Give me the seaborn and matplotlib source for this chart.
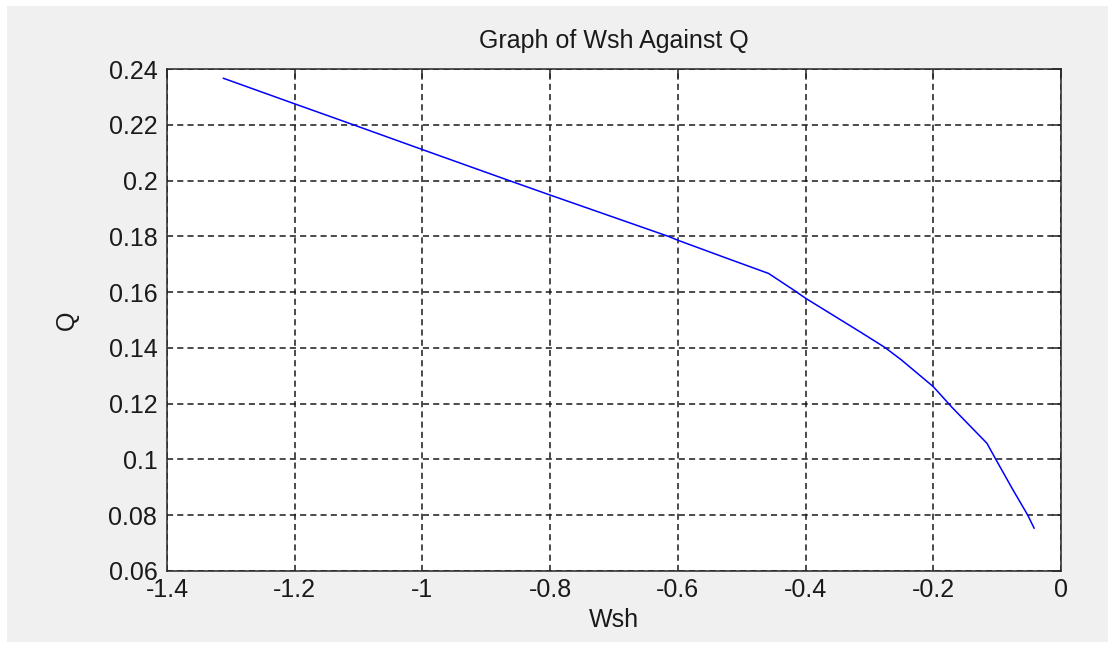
import matplotlib
matplotlib.use("Agg")
import matplotlib.pyplot as plt
import seaborn as sns
import pandas as pd
from matplotlib.patches import Rectangle

# Data
wsh = [-1.312, -1.2, -1.124, -1.0, -0.879, -0.8, -0.615, -0.6, -0.53, -0.458,
       -0.417, -0.4, -0.315, -0.276, -0.25, -0.2, -0.17, -0.116, -0.102,
       -0.075, -0.052, -0.042]
q = [0.2367, 0.2275, 0.2213, 0.2111, 0.2012, 0.1948, 0.18, 0.1786, 0.1727, 0.1667,
     0.1605, 0.1578, 0.1458, 0.1402, 0.1357, 0.1261, 0.1185, 0.1058, 0.1,
     0.089, 0.08, 0.0753]
x_ticks = [-1.4, -1.2, -1.0, -0.8, -0.6, -0.4, -0.2, 0.0]
x_tick_labels = ["-1.4", "-1.2", "-1", "-0.8", "-0.6", "-0.4", "-0.2", "0"]
y_ticks = [0.06, 0.08, 0.10, 0.12, 0.14, 0.16, 0.18, 0.20, 0.22, 0.24]
y_tick_labels = ["0.06", "0.08", "0.1", "0.12", "0.14", "0.16", "0.18", "0.2", "0.22", "0.24"]
title = "Graph of Wsh Against Q"
xlabel = "Wsh"
ylabel = "Q"

sns.set_style("white")
plt.rcParams["font.family"] = ["Liberation Sans", "DejaVu Sans"]

W, H = 1115, 648
fig = plt.figure(figsize=(W / 100, H / 100), dpi=100, facecolor="white")
fig.patches.append(Rectangle((7 / W, 6 / H), (W - 14) / W, (H - 12) / H,
                             transform=fig.transFigure, facecolor="#f0f0f0",
                             edgecolor="none", zorder=-10))
left, right, top, bottom = 167, 1061, 69, 571
ax = fig.add_axes([left / W, 1 - bottom / H, (right - left) / W, (bottom - top) / H])
ax.set_zorder(5)
ax.set_facecolor("white")

df = pd.DataFrame({"Wsh": wsh, "Q": q})
sns.lineplot(data=df, x="Wsh", y="Q", ax=ax, color="#0000ff", linewidth=1.1,
             sort=False, estimator=None, zorder=3)

ax.set_xlim(-1.4, 0)
ax.set_ylim(0.06, 0.24)
ax.set_xticks(x_ticks)
ax.set_xticklabels(x_tick_labels)
ax.set_yticks(y_ticks)
ax.set_yticklabels(y_tick_labels)

ax.grid(True, color="#1a1a1a", linewidth=1.1, linestyle=(0, (4, 2.7)))
ax.set_axisbelow(False)
for s in ax.spines.values():
    s.set_visible(True)
    s.set_color("#262626")
    s.set_linewidth(1.1)
    s.set_zorder(4)

ax.tick_params(axis="both", direction="in", length=6.5, width=1.1, color="#262626",
               top=True, right=True, labelsize=18, labelcolor="#1a1a1a")
ax.tick_params(axis="x", pad=5)
ax.tick_params(axis="y", pad=7)

ax.set_xlabel(xlabel, fontsize=18, color="#1a1a1a")
ax.set_ylabel(ylabel, fontsize=18, color="#1a1a1a")
ax.xaxis.set_label_coords(0.5, (bottom - 620) / (bottom - top))
ax.xaxis.label.set_va("center")
ax.yaxis.set_label_coords((67 - left) / (right - left), 0.5)
ax.yaxis.label.set_va("center")
ax.set_title(title, fontsize=18, color="#1a1a1a", y=(bottom - 48) / (bottom - top), pad=0)

fig.savefig("out.png", dpi=100, facecolor=fig.get_facecolor())
